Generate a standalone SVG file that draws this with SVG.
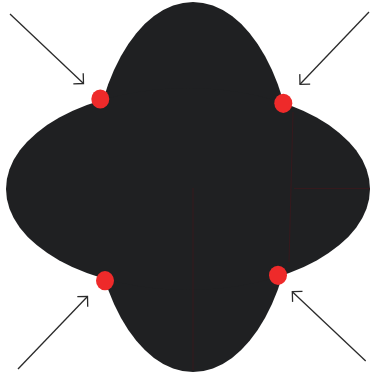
<svg xmlns="http://www.w3.org/2000/svg" width="370" height="379" viewBox="0 0 370 379">
  <defs>
    <style>
      .lobe { fill: #1f2022; }
      .seam { stroke: #36191d; stroke-width: 1; fill: none; }
      .dot { fill: #ee2a2a; }
      .arrow { stroke: #2a2a2a; stroke-width: 1.3; fill: none; marker-end: url(#head); }
    </style>
    <marker id="head" markerUnits="userSpaceOnUse" markerWidth="20" markerHeight="20" refX="0" refY="0" viewBox="-10 -10 20 20" orient="auto" overflow="visible">
      <path d="M-7.2,-7.2 L0,0 L-7.2,7.2" fill="none" stroke="#2a2a2a" stroke-width="1.3"/>
    </marker>
  </defs>
  <g id="shape">
    <ellipse class="lobe" cx="193" cy="187" rx="102" ry="185"/>
    <ellipse class="lobe" cx="188" cy="189" rx="182" ry="101"/>
    <path class="seam" d="M193,188 L193,370 M294,188.5 L370,188.5 M293,112 L289,262"/>
  </g>
  <g id="dots">
    <ellipse class="dot" cx="100.3" cy="99" rx="9" ry="9.6"/>
    <ellipse class="dot" cx="283.3" cy="103.3" rx="9" ry="9.6"/>
    <ellipse class="dot" cx="105" cy="280.7" rx="9" ry="9.6"/>
    <ellipse class="dot" cx="278" cy="275.3" rx="9" ry="9.6"/>
  </g>
  <g id="connectors">
    <line class="arrow" x1="10" y1="14" x2="83.5" y2="83.5"/>
    <line class="arrow" x1="369" y1="12" x2="300" y2="84.3"/>
    <line class="arrow" x1="18" y1="369" x2="87.5" y2="296.5"/>
    <line class="arrow" x1="365.7" y1="361" x2="292.3" y2="291.7"/>
  </g>
</svg>
